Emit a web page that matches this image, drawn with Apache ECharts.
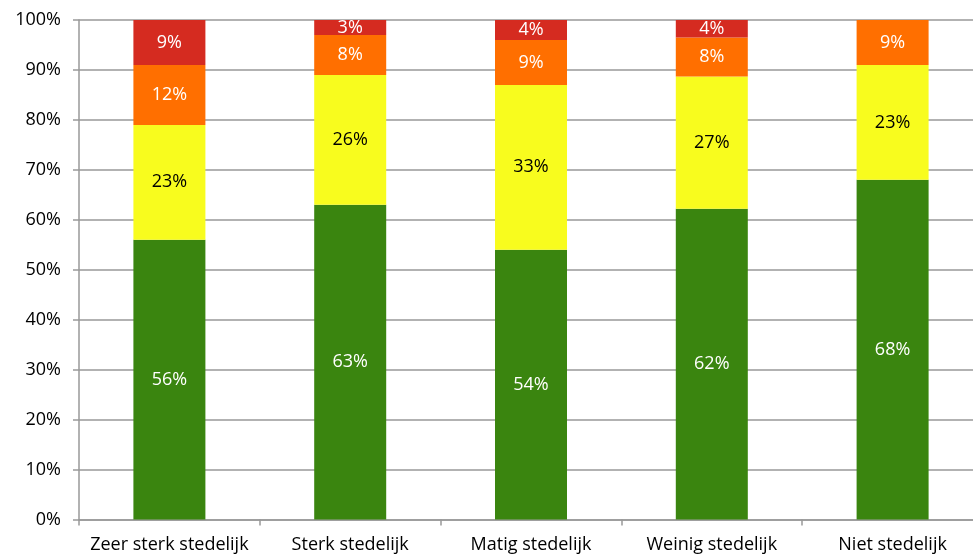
<!DOCTYPE html>
<html>
<head>
<meta charset="utf-8">
<script src="https://cdn.jsdelivr.net/npm/echarts@6/dist/echarts.min.js"></script>
<style>
html,body{margin:0;padding:0;background:#fff;}
#chart{width:973px;height:556px;}
</style>
</head>
<body>
<div id="chart"></div>
<script>
var categories = ['Zeer sterk stedelijk', 'Sterk stedelijk', 'Matig stedelijk', 'Weinig stedelijk', 'Niet stedelijk'];
var greenValues = [56, 63, 54, 62.2, 68];
var yellowValues = [23, 26, 33, 26.5, 23];
var orangeValues = [12, 8, 9, 7.8, 9];
var redValues = [9, 3, 4, 3.5, 0];
var yTicks = [0, 10, 20, 30, 40, 50, 60, 70, 80, 90, 100];

var FONT = '"Open Sans", "Liberation Sans", sans-serif';

function mkSeries(name, data, color, labelColor) {
  return {
    name: name,
    type: 'bar',
    stack: 'total',
    data: data,
    barWidth: 72,
    itemStyle: { color: color },
    label: {
      show: true,
      position: 'inside',
      color: labelColor,
      fontFamily: FONT,
      fontSize: 18,
      formatter: function (p) { return p.value > 0 ? Math.round(p.value) + '%' : ''; }
    },
    emphasis: { disabled: true }
  };
}

var chart = echarts.init(document.getElementById('chart'));
chart.setOption({
  animation: false,
  backgroundColor: '#ffffff',
  grid: { left: 79, right: -10, top: 20, bottom: 36.5, containLabel: false, outerBoundsMode: 'none' },
  xAxis: {
    type: 'category',
    data: categories,
    axisLine: { show: true, lineStyle: { color: '#999999', width: 1.5 } },
    axisTick: { show: true, alignWithLabel: false, length: 6, lineStyle: { color: '#999999', width: 1.5 } },
    axisLabel: { color: '#000000', fontFamily: FONT, fontSize: 18, margin: 16, interval: 0 },
    splitLine: { show: false }
  },
  yAxis: {
    type: 'value',
    min: yTicks[0],
    max: yTicks[yTicks.length - 1],
    interval: 10,
    axisLine: { show: true, lineStyle: { color: '#999999', width: 1.5 } },
    axisTick: { show: true, length: 6, lineStyle: { color: '#999999', width: 1.5 } },
    axisLabel: { color: '#000000', fontFamily: FONT, fontSize: 18, margin: 18, formatter: '{value}%' },
    splitLine: { show: true, lineStyle: { color: '#999999', width: 1.5 } }
  },
  series: [
    mkSeries('Groen', greenValues, '#3a850f', '#ffffff'),
    mkSeries('Geel', yellowValues, '#f8fc1e', '#000000'),
    mkSeries('Oranje', orangeValues, '#ff6f00', '#ffffff'),
    mkSeries('Rood', redValues, '#d52b20', '#ffffff')
  ]
});
</script>
</body>
</html>
